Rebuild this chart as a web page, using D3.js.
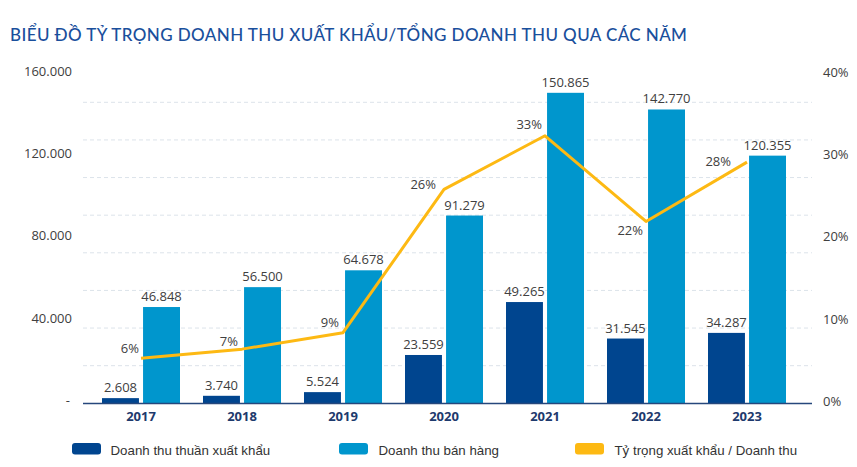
<!DOCTYPE html>
<html><head><meta charset="utf-8">
<script src="https://cdn.jsdelivr.net/npm/d3@7"></script>
<style>
html,body{margin:0;padding:0;background:#fff;}
svg{display:block;}
</style></head>
<body>
<svg id="chart" width="857" height="467"></svg>
<script>
const years = ["2017","2018","2019","2020","2021","2022","2023"];
const exportRevenue = [2608, 3740, 5524, 23559, 49265, 31545, 34287];
const salesRevenue = [46848, 56500, 64678, 91279, 150865, 142770, 120355];
const exportRatio = [0.055, 0.066, 0.086, 0.26, 0.325, 0.221, 0.293];
const ratioLabels = ["6%","7%","9%","26%","33%","22%","28%"];
const leftTicks = [0, 40000, 80000, 120000, 160000];
const rightTicks = [0, 0.1, 0.2, 0.3, 0.4];
const seriesNames = ["Doanh thu thuần xuất khẩu","Doanh thu bán hàng","Tỷ trọng xuất khẩu / Doanh thu"];
const titleText = "BIỂU ĐỒ TỶ TRỌNG DOANH THU XUẤT KHẨU/TỔNG DOANH THU QUA CÁC NĂM";

// layout (label offsets for ratio labels: dx, dy relative to point)
const ratioLabelOffset = [[-2,-5],[-4,-3],[-4,-6],[-8,0],[-3,-7],[-3,14],[-16,4]];

const colDark = "#00458f", colLight = "#0096cd", colLine = "#fdb913";
const svg = d3.select("#chart");
const font = "'Open Sans', sans-serif";

svg.append("text").attr("x", 10).attr("y", 41)
  .attr("font-family", "Lato, sans-serif").attr("font-size", 17).attr("font-weight", 500)
  .attr("letter-spacing", 0.4)
  .attr("fill", "#1a4f9c").text(titleText);

const x = d3.scaleBand().domain(years).range([90.5, 797.5]).padding(0);
const inner = d3.scaleBand().domain(["export","sales"]).range([-39, 39]).paddingInner(0.1);
const y = d3.scaleLinear().domain([0, 160000]).range([403.5, 74]);
const yR = d3.scaleLinear().domain([0, 0.4]).range([403.5, 74]);
const yGrid = d3.scaleLinear().domain([0, 160000]).range([403.3, 102.3]);
const cx = d => x(d) + x.bandwidth() / 2;

// gridlines
svg.append("g").selectAll("line").data(d3.range(20000, 160001, 20000)).join("line")
  .attr("x1", 83).attr("x2", 812)
  .attr("y1", d => yGrid(d)).attr("y2", d => yGrid(d))
  .attr("stroke", "#dce3ea").attr("stroke-width", 1).attr("stroke-dasharray", "4,3");

// left axis
const leftAxis = d3.axisLeft(y).tickValues(leftTicks).tickSize(0).tickPadding(0)
  .tickFormat(d => d === 0 ? "-" : d3.format(",")(d).replace(/,/g, "."));
const gL = svg.append("g").attr("transform", "translate(72,-3)").call(leftAxis);
gL.select(".domain").remove();
gL.selectAll("text").attr("font-family", font).attr("font-size", 13).attr("fill", "#404040");
gL.selectAll(".tick").filter(d => d === 0).select("text").attr("dx", -2);

// right axis
const rightAxis = d3.axisRight(yR).tickValues(rightTicks).tickSize(0).tickPadding(0)
  .tickFormat(d3.format(".0%"));
const gR = svg.append("g").attr("transform", "translate(823,-2)").call(rightAxis);
gR.select(".domain").remove();
gR.selectAll("text").attr("font-family", font).attr("font-size", 13).attr("fill", "#404040");

// bars
const groups = svg.append("g").selectAll("g").data(years).join("g")
  .attr("transform", d => `translate(${cx(d)},0)`);
groups.append("rect")
  .attr("x", inner("export")).attr("width", inner.bandwidth())
  .attr("y", (d, i) => y(exportRevenue[i])).attr("height", (d, i) => y(0) - y(exportRevenue[i]))
  .attr("fill", colDark);
groups.append("rect")
  .attr("x", inner("sales")).attr("width", inner.bandwidth())
  .attr("y", (d, i) => y(salesRevenue[i])).attr("height", (d, i) => y(0) - y(salesRevenue[i]))
  .attr("fill", colLight);

const fmt = v => d3.format(",")(v).replace(/,/g, ".");
groups.append("text")
  .attr("x", inner("export") + inner.bandwidth() / 2)
  .attr("y", (d, i) => y(exportRevenue[i]) - 6)
  .attr("text-anchor", "middle").attr("font-family", font).attr("font-size", 13).attr("fill", "#404040")
  .text((d, i) => fmt(exportRevenue[i]));
groups.append("text")
  .attr("x", inner("sales") + inner.bandwidth() / 2)
  .attr("y", (d, i) => y(salesRevenue[i]) - 6)
  .attr("text-anchor", "middle").attr("font-family", font).attr("font-size", 13).attr("fill", "#404040")
  .text((d, i) => fmt(salesRevenue[i]));

// baseline
svg.append("line").attr("x1", 83).attr("x2", 812).attr("y1", y(0)).attr("y2", y(0))
  .attr("stroke", "#26477c").attr("stroke-width", 1.5);

// x labels
const xAxis = d3.axisBottom(x).tickSize(0).tickPadding(0);
const gX = svg.append("g").attr("transform", `translate(0,${y(0) + 17})`).call(xAxis);
gX.select(".domain").remove();
gX.selectAll("text").attr("font-family", font).attr("font-size", 13).attr("font-weight", 700)
  .attr("fill", "#1e3a6d").attr("dy", 0);

// ratio line
const line = d3.line().x((d, i) => cx(years[i])).y(d => yR(d));
svg.append("path").datum(exportRatio).attr("d", line)
  .attr("fill", "none").attr("stroke", colLine).attr("stroke-width", 3).attr("stroke-linejoin", "round");
svg.append("g").selectAll("text").data(exportRatio).join("text")
  .attr("x", (d, i) => cx(years[i]) + ratioLabelOffset[i][0])
  .attr("y", (d, i) => yR(d) + ratioLabelOffset[i][1])
  .attr("text-anchor", "end").attr("font-family", font).attr("font-size", 13).attr("fill", "#404040")
  .text((d, i) => ratioLabels[i]);

// legend
const legendX = [72, 339, 575];
const legendCol = [colDark, colLight, colLine];
const lg = svg.append("g").selectAll("g").data(seriesNames).join("g")
  .attr("transform", (d, i) => `translate(${legendX[i]},443)`);
lg.append("rect").attr("width", 29).attr("height", 11.5).attr("rx", 3).attr("fill", (d, i) => legendCol[i]);
lg.append("text").attr("x", (d, i) => i === 0 ? 38.5 : 39.5).attr("y", 12)
  .attr("font-family", "'Liberation Sans', Arial, sans-serif").attr("font-size", 13.3).attr("fill", "#333")
  .text(d => d);
</script>
</body></html>
